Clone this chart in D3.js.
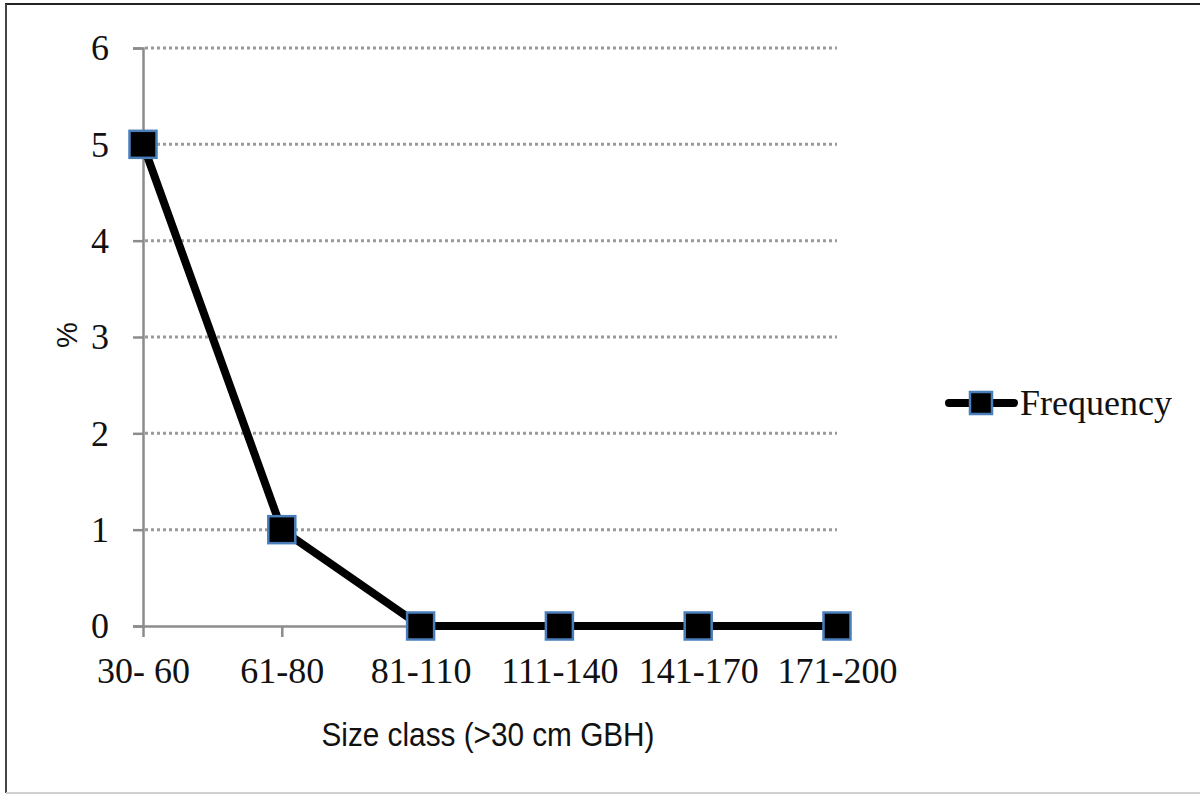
<!DOCTYPE html>
<html>
<head>
<meta charset="utf-8">
<script src="https://cdn.jsdelivr.net/npm/d3@7"></script>
<style>
  html, body { margin: 0; padding: 0; background: #fff; }
  svg { display: block; }
</style>
</head>
<body>
<svg id="chart" width="1200" height="796"></svg>
<script>
// Size-class distribution of trees (frequency, %)
const categories = ["30- 60", "61-80", "81-110", "111-140", "141-170", "171-200"];
const frequency = [5, 1, 0, 0, 0, 0];
const yTicks = [0, 1, 2, 3, 4, 5, 6];
const seriesName = "Frequency";
const xTitle = "Size class (>30 cm GBH)";
const yTitle = "%";

const svg = d3.select("#chart");
const W = 1200, H = 796;

// frame around the chart area
svg.append("rect").attr("x", 0).attr("y", 0).attr("width", W).attr("height", H).attr("fill", "#fff");
svg.append("line").attr("x1", 5).attr("x2", W).attr("y1", 4).attr("y2", 4).attr("stroke", "#222").attr("stroke-width", 2);
svg.append("line").attr("x1", 6).attr("x2", 6).attr("y1", 4).attr("y2", H - 3).attr("stroke", "#444").attr("stroke-width", 2);
svg.append("line").attr("x1", 6).attr("x2", W).attr("y1", H - 3).attr("y2", H - 3).attr("stroke", "#d0d0d0").attr("stroke-width", 2);

const plot = { left: 143, right: 837, top: 48, bottom: 626 };

const x = d3.scalePoint()
  .domain(categories)
  .range([plot.left, plot.right]);

const y = d3.scaleLinear()
  .domain([0, 6])
  .range([plot.bottom, plot.top]);

const serif = "'Liberation Serif', 'Times New Roman', serif";
const axisGray = "#8c8c8c";

// dotted horizontal gridlines
svg.append("g")
  .selectAll("line")
  .data(yTicks.filter(d => d > 0))
  .join("line")
  .attr("x1", plot.left + 2)
  .attr("x2", plot.right)
  .attr("y1", d => y(d))
  .attr("y2", d => y(d))
  .attr("stroke", "#9a9a9a")
  .attr("stroke-width", 3)
  .attr("stroke-dasharray", "3,3");

// y axis
const yAxis = svg.append("g")
  .attr("transform", `translate(${plot.left},0)`)
  .call(d3.axisLeft(y).tickValues(yTicks).tickSize(10).tickPadding(24).tickFormat(d3.format("d")));
yAxis.select(".domain").attr("stroke", axisGray).attr("stroke-width", 2.5);
yAxis.selectAll(".tick line").attr("stroke", axisGray).attr("stroke-width", 2.5);
yAxis.selectAll(".tick text")
  .attr("font-family", serif)
  .attr("font-size", 36)
  .attr("fill", "#111")
  .attr("dy", "0.33em");

// x axis
const xAxis = svg.append("g")
  .attr("transform", `translate(0,${plot.bottom})`)
  .call(d3.axisBottom(x).tickSize(11).tickPadding(20).tickSizeOuter(0));
xAxis.select(".domain").attr("stroke", axisGray).attr("stroke-width", 2.5);
xAxis.selectAll(".tick line").attr("stroke", axisGray).attr("stroke-width", 2.5);
xAxis.selectAll(".tick text")
  .attr("font-family", serif)
  .attr("font-size", 36)
  .attr("fill", "#111");

// axis titles
svg.append("text")
  .attr("x", 488)
  .attr("y", 746)
  .attr("text-anchor", "middle")
  .attr("font-family", "'Liberation Sans', Arial, sans-serif")
  .attr("font-size", 33)
  .attr("textLength", 333)
  .attr("lengthAdjust", "spacingAndGlyphs")
  .attr("fill", "#111")
  .text(xTitle);

svg.append("text")
  .attr("transform", "translate(77,335) rotate(-90)")
  .attr("text-anchor", "middle")
  .attr("font-family", "'Liberation Sans', Arial, sans-serif")
  .attr("font-size", 29)
  .attr("fill", "#111")
  .text(yTitle);

// series line
const line = d3.line()
  .x((d, i) => x(categories[i]))
  .y(d => y(d));

svg.append("path")
  .datum(frequency)
  .attr("d", line)
  .attr("fill", "none")
  .attr("stroke", "#000")
  .attr("stroke-width", 8)
  .attr("stroke-linejoin", "round");

// square markers
const mk = 27;
svg.append("g")
  .selectAll("rect")
  .data(frequency)
  .join("rect")
  .attr("x", (d, i) => x(categories[i]) - mk / 2)
  .attr("y", d => y(d) - mk / 2)
  .attr("width", mk)
  .attr("height", mk)
  .attr("fill", "#000")
  .attr("stroke", "#4a7ebb")
  .attr("stroke-width", 2.5);

// legend
const lg = svg.append("g").attr("transform", "translate(0,403)");
lg.append("line")
  .attr("x1", 949).attr("x2", 1014).attr("y1", 0).attr("y2", 0)
  .attr("stroke", "#000").attr("stroke-width", 8).attr("stroke-linecap", "round");
lg.append("rect")
  .attr("x", 981 - 11).attr("y", -11).attr("width", 22).attr("height", 22)
  .attr("fill", "#000").attr("stroke", "#4a7ebb").attr("stroke-width", 2.5);
lg.append("text")
  .attr("x", 1020).attr("y", 0).attr("dy", "0.33em")
  .attr("font-family", serif)
  .attr("font-size", 36)
  .attr("fill", "#111")
  .text(seriesName);
</script>
</body>
</html>
